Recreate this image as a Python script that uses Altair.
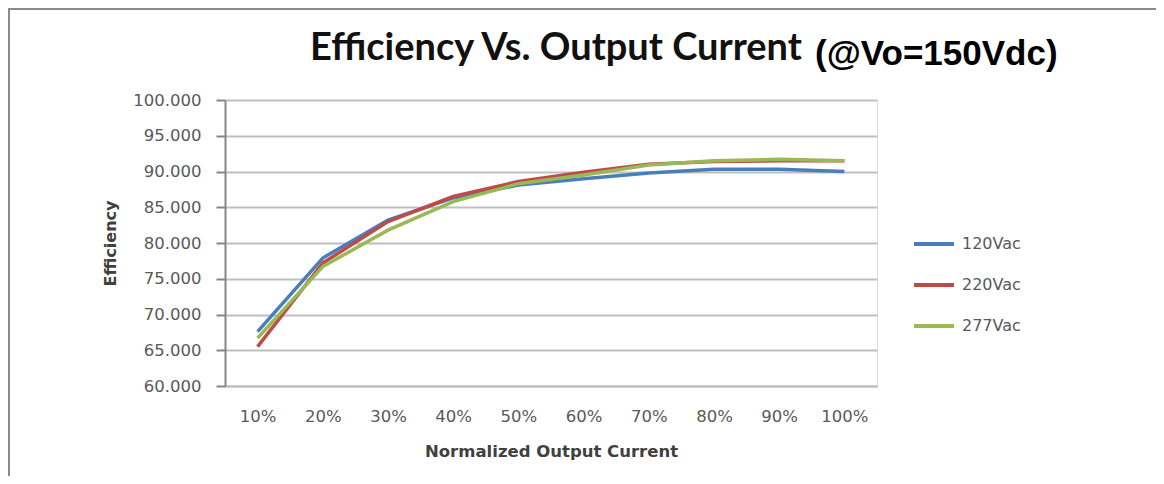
import altair as alt
import pandas as pd

categories = ["10%", "20%", "30%", "40%", "50%", "60%", "70%", "80%", "90%", "100%"]
eff_120 = [67.6, 77.9, 83.2, 86.3, 88.1, 89.0, 89.8, 90.3, 90.3, 90.0]
eff_220 = [65.5, 77.2, 83.0, 86.5, 88.6, 89.9, 91.0, 91.4, 91.5, 91.5]
eff_277 = [66.7, 76.7, 81.8, 85.8, 88.3, 89.5, 90.9, 91.5, 91.7, 91.5]
series_names = ["120Vac", "220Vac", "277Vac"]
series_colors = ["#4a7ebb", "#be4b48", "#98b954"]
y_ticks = [60, 65, 70, 75, 80, 85, 90, 95, 100]

rows = []
for name, vals in zip(series_names, [eff_120, eff_220, eff_277]):
    for c, v in zip(categories, vals):
        rows.append({"current": c, "eff": v, "series": name})
df = pd.DataFrame(rows)

W, H = 652, 286

lines = alt.Chart(df).mark_line(strokeWidth=3.5).encode(
    x=alt.X("current:O", sort=categories,
            scale=alt.Scale(paddingOuter=0.5),
            axis=alt.Axis(title="Normalized Output Current", labelAngle=0,
                          labelFont="DejaVu Sans", labelFontSize=16.5, labelColor="#595959",
                          labelPadding=22, ticks=False, domainColor="#bfbfbf", domainWidth=2,
                          titleFont="DejaVu Sans", titleFontWeight="bold", titleFontSize=16.5,
                          titleColor="#404040", titleX=W / 2, titleY=65, titleBaseline="middle")),
    y=alt.Y("eff:Q", scale=alt.Scale(domain=[60, 100], nice=False, zero=False),
            axis=alt.Axis(title="Efficiency", values=y_ticks, format=".3f",
                          labelFont="DejaVu Sans", labelFontSize=16.5, labelColor="#595959",
                          labelPadding=15, tickSize=9, tickColor="#868686", tickWidth=2,
                          domainColor="#868686", domainWidth=2,
                          gridColor="#bfbfbf", gridWidth=2,
                          titleFont="DejaVu Sans", titleFontWeight="bold", titleFontSize=16,
                          titleColor="#404040", titleX=-115, titleY=H / 2, titleAngle=-90,
                          titleAlign="center", titleBaseline="middle")),
    color=alt.Color("series:N", sort=series_names,
                    scale=alt.Scale(domain=series_names, range=series_colors),
                    legend=alt.Legend(title=None, orient="none", legendX=687, legendY=122,
                                      symbolType="stroke", symbolStrokeWidth=4, symbolSize=1600,
                                      labelFont="DejaVu Sans", labelFontSize=16,
                                      labelColor="#595959", labelOffset=6, rowPadding=11,
                                      padding=0)),
)

titles = pd.DataFrame({"txt": ["Efficiency Vs. Output Current", "(@Vo=150Vdc)"]})
t1 = alt.Chart(titles.iloc[[0]]).mark_text(
    align="left", baseline="alphabetic", font="Lato",
    fontWeight="bold", fontSize=38, color="#111111"
).encode(x=alt.value(85), y=alt.value(-40), text="txt:N")
t2 = alt.Chart(titles.iloc[[1]]).mark_text(
    align="left", baseline="alphabetic", font="Liberation Sans",
    fontWeight="bold", fontSize=35, color="#000000"
).encode(x=alt.value(590), y=alt.value(-35), text="txt:N")

frame_top = alt.Chart(titles.iloc[[0]]).mark_rule(color="#8a8a8a", strokeWidth=2).encode(
    x=alt.value(-217), x2=alt.value(931), y=alt.value(-91))
frame_left = alt.Chart(titles.iloc[[0]]).mark_rule(color="#8a8a8a", strokeWidth=2).encode(
    x=alt.value(-216), y=alt.value(-92), y2=alt.value(376))

chart = alt.layer(frame_top, frame_left, lines, t1, t2).properties(
    width=W, height=H,
    autosize=alt.AutoSizeParams(type="none"),
    padding={"left": 217, "top": 92, "right": 279, "bottom": 90},
).configure_view(stroke=None).configure(background="white")

chart.save("out.html", embed_options={"renderer": "svg", "actions": False})
